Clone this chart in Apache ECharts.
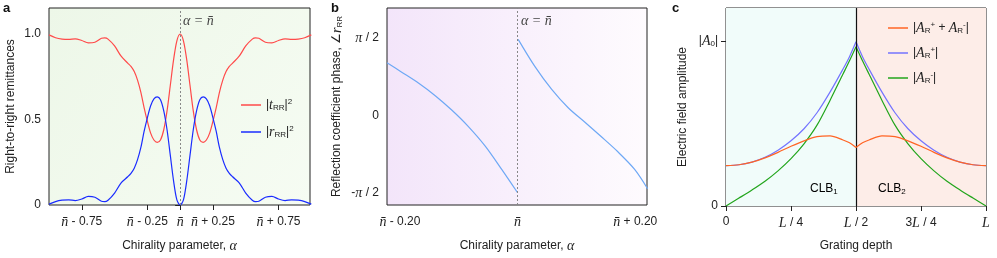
<!DOCTYPE html>
<html><head><meta charset="utf-8">
<script src="https://cdn.jsdelivr.net/npm/echarts@6/dist/echarts.min.js"></script>
<style>html,body{margin:0;padding:0;background:#fff}#c{width:997px;height:258px}</style>
</head><body><div id="c"></div>
<script>
// ---------- Panel a: remittances vs chirality offset (alpha - n̄)
const xA = [-1.0,-0.95,-0.9,-0.85,-0.8,-0.75,-0.7,-0.65,-0.6,-0.575,-0.55,-0.5,-0.45,-0.4,-0.375,-0.35,-0.325,-0.3,-0.275,-0.25,-0.225,-0.2,-0.175,-0.15,-0.125,-0.1,-0.075,-0.05,-0.025,0,
            0.025,0.05,0.075,0.1,0.125,0.15,0.175,0.2,0.225,0.25,0.275,0.3,0.325,0.35,0.375,0.4,0.45,0.5,0.55,0.575,0.6,0.65,0.7,0.75,0.8,0.85,0.9,0.95,1.0];
const tRR = [0.995,0.978,0.97,0.968,0.972,0.962,0.948,0.952,0.975,0.977,0.97,0.93,0.87,0.83,0.81,0.78,0.73,0.66,0.57,0.49,0.42,0.38,0.366,0.38,0.44,0.55,0.70,0.85,0.96,1.0,
             0.96,0.85,0.70,0.55,0.44,0.38,0.366,0.38,0.42,0.49,0.57,0.66,0.73,0.78,0.81,0.83,0.87,0.93,0.97,0.977,0.975,0.952,0.948,0.962,0.972,0.968,0.97,0.978,0.995];
const rRR = [0.005,0.02,0.028,0.03,0.026,0.035,0.05,0.045,0.022,0.02,0.028,0.07,0.13,0.165,0.185,0.215,0.265,0.335,0.43,0.51,0.58,0.62,0.632,0.615,0.55,0.44,0.29,0.14,0.03,0.0,
             0.03,0.14,0.29,0.44,0.55,0.615,0.632,0.62,0.58,0.51,0.43,0.335,0.265,0.215,0.185,0.165,0.13,0.07,0.028,0.02,0.022,0.045,0.05,0.035,0.026,0.03,0.028,0.02,0.005];
const ticksA = [-0.75,-0.25,0,0.25,0.75];
const ticksAY = [0,0.5,1];
const labelsAY = ['0','0.5','1.0'];

// ---------- Panel b: reflection phase (units of pi/2)
const xB1 = [-0.222,-0.197,-0.168,-0.14,-0.112,-0.084,-0.055,-0.027,0];
const phB1 = [0.68,0.558,0.415,0.255,0.07,-0.14,-0.395,-0.695,-0.996];
const xB2 = [0.001,0.029,0.058,0.086,0.114,0.142,0.17,0.199,0.221];
const phB2 = [0.98,0.635,0.335,0.099,-0.085,-0.272,-0.465,-0.695,-0.944];
const ticksB = [-0.2,0,0.2];
const ticksBY = [-1,0,1];

// ---------- Panel c: field amplitudes vs depth (units of L, |A0|)
const xC1 = [0,0.05,0.1,0.15,0.2,0.25,0.3,0.35,0.4,0.45,0.475,0.5];
const sumC1 = [0.245,0.25,0.266,0.292,0.325,0.362,0.395,0.42,0.425,0.40,0.383,0.355];
const plusC1 = [0.245,0.25,0.266,0.295,0.338,0.395,0.468,0.565,0.69,0.83,0.905,0.995];
const minusC1 = [0,0.048,0.097,0.15,0.213,0.287,0.377,0.49,0.64,0.80,0.88,0.965];
const xC2 = [0.5,0.525,0.55,0.6,0.65,0.7,0.75,0.8,0.85,0.9,0.95,1.0];
const sumC2 = [0.355,0.383,0.40,0.425,0.42,0.395,0.362,0.325,0.292,0.266,0.25,0.245];
const plusC2 = [0.995,0.905,0.83,0.69,0.565,0.468,0.395,0.338,0.295,0.266,0.25,0.245];
const minusC2 = [0.965,0.88,0.80,0.64,0.49,0.377,0.287,0.213,0.15,0.097,0.048,0];
const ticksC = [0,0.25,0.5,0.75,1];
const ticksCY = [0,1];

const F = '"Liberation Sans",Arial,sans-serif';
const SERIF = '"Liberation Serif","DejaVu Serif",serif';
const TXT = '#222';
const FS = 12;
const pairs = (xs, ys) => xs.map((x, i) => [x, ys[i]]);
const rich = {
  i: {fontFamily: SERIF, fontStyle: 'italic', fontSize: 14, color: TXT},
  n: {fontFamily: SERIF, fontStyle: 'italic', fontSize: 14, color: TXT},
  sub: {fontFamily: F, fontSize: 8, color: TXT, verticalAlign: 'bottom', padding: [6,0,0,0]},
  sup: {fontFamily: F, fontSize: 8, color: TXT, verticalAlign: 'top', padding: [0,0,6,0]},
  t: {fontFamily: F, fontSize: FS, color: TXT}
};
const NB = 'n\u0304';

function fmtA(v){
  if (Math.abs(v) < 1e-9) return '{n|' + NB + '}';
  return '{n|' + NB + '}{t| ' + (v < 0 ? '- ' : '+ ') + Math.abs(v).toFixed(2) + '}';
}
function fmtBY(v){
  if (Math.abs(v) < 1e-9) return '{t|0}';
  return '{t|' + (v < 0 ? '-' : '') + '}{i|π}{t| / 2}';
}
function fmtC(v){
  const m = {0:'{t|0}', 0.25:'{i|L}{t| / 4}', 0.5:'{i|L}{t| / 2}', 0.75:'{t|3}{i|L}{t| / 4}', 1:'{i|L}'};
  return m[v];
}
function fmtCY(v){ return v < 0.5 ? '{t|0}' : '{t||}{i|A}{sub|0}{t||}'; }

const axisCommon = {
  axisLine: {show: false},
  splitLine: {show: false},
  axisTick: {show: true, inside: false, length: 5, lineStyle: {color: TXT, width: 1}},
  axisLabel: {color: TXT, fontFamily: F, fontSize: FS, rich: rich},
  nameTextStyle: {color: TXT, fontFamily: F, fontSize: FS, rich: rich},
  nameLocation: 'middle'
};
function xa(idx, min, max, ticks, fmt, name, gap){
  return Object.assign({}, axisCommon, {
    type: 'value', gridIndex: idx, min: min, max: max, name: name, nameGap: gap,
    axisTick: Object.assign({}, axisCommon.axisTick, {customValues: ticks}),
    axisLabel: Object.assign({}, axisCommon.axisLabel, {customValues: ticks, formatter: fmt, margin: 10})
  });
}
function ya(idx, min, max, ticks, fmt, name, gap){
  return Object.assign({}, axisCommon, {
    type: 'value', gridIndex: idx, min: min, max: max, name: name, nameGap: gap, nameRotate: 90,
    axisTick: Object.assign({}, axisCommon.axisTick, {customValues: ticks}),
    axisLabel: Object.assign({}, axisCommon.axisLabel, {customValues: ticks, formatter: fmt, margin: 8})
  });
}
const grid = (left) => ({left: left, top: 8, width: 260, height: 198, show: true, borderColor: '#222', borderWidth: 1, z: 1});

const gridA = grid(49); gridA.width = 261;
gridA.backgroundColor = {type:'linear', x:0, y:0, x2:1, y2:1, colorStops:[{offset:0,color:'#edf7e8'},{offset:1,color:'#f6fcf3'}]};
const gridB = grid(387);
gridB.backgroundColor = {type:'linear', x:0, y:0, x2:1, y2:0, colorStops:[{offset:0,color:'#f3e5fa'},{offset:1,color:'#fefbfe'}]};
const gridC = grid(726);

const dotted = {silent: true, symbol: 'none', label: {show: false},
  lineStyle: {type: [2,2], color: '#888', width: 1}, data: [{xAxis: 0}]};

const legendCommon = {orient: 'vertical', itemWidth: 20, itemHeight: 1.5, icon: 'rect', textStyle: {rich: rich, color: TXT}};
const lineS = (name, xi, xs, ys, color, z, extra) => Object.assign({
  name: name, type: 'line', xAxisIndex: xi, yAxisIndex: xi, data: pairs(xs, ys), smooth: 0.3,
  symbol: 'none', lineStyle: {color: color, width: 1.2}, itemStyle: {color: color}, z: z}, extra || {});

const option = {
  animation: false,
  backgroundColor: '#fff',
  textStyle: {fontFamily: F},
  grid: [gridA, gridB, gridC],
  xAxis: [
    xa(0, -1.0, 0.99, ticksA, fmtA, 'Chirality parameter, {i|α}', 34),
    xa(1, -0.222, 0.22, ticksB, fmtA, 'Chirality parameter, {i|α}', 34),
    xa(2, 0, 1, ticksC, fmtC, 'Grating depth', 34)
  ],
  yAxis: [
    ya(0, 0, 1.152, ticksAY, v => labelsAY[ticksAY.indexOf(v)], 'Right-to-right remittances', 32),
    ya(1, -1.154, 1.385, ticksBY, fmtBY, 'Reflection coefficient phase, ∠{i|r}{sub|RR}', 43),
    ya(2, 0, 1.2, ticksCY, fmtCY, 'Electric field amplitude', 37)
  ],
  legend: [
    Object.assign({}, legendCommon, {left: 236, top: 93, itemGap: 13, data: ['tRR','rRR'],
     formatter: n => n === 'tRR' ? '{t||}{i|t}{sub|RR}{t||}{sup|2}' : '{t||}{i|r}{sub|RR}{t||}{sup|2}'}),
    Object.assign({}, legendCommon, {left: 883, top: 16, itemGap: 11, data: ['sum','plus','minus'],
     formatter: n => n === 'sum' ? '{t||}{i|A}{sub|R}{sup|+}{t| + }{i|A}{sub|R}{sup|-}{t||}'
                  : n === 'plus' ? '{t||}{i|A}{sub|R}{sup|+}{t||}' : '{t||}{i|A}{sub|R}{sup|-}{t||}'})
  ],
  series: [
    lineS('tRR', 0, xA, tRR, '#ff4a4a', 3),
    lineS('rRR', 0, xA, rRR, '#1a2cff', 3, {markLine: dotted}),
    lineS('phL', 1, xB1, phB1, '#6ea8f5', 3, {markLine: dotted}),
    lineS('phR', 1, xB2, phB2, '#6ea8f5', 3),
    lineS('sum', 2, xC1, sumC1, '#ff6424', 5, {
      markArea: {silent: true, data: [
        [{xAxis: 0, itemStyle: {color: '#f1fcfa'}}, {xAxis: 0.5}],
        [{xAxis: 0.5, itemStyle: {color: '#fdede8'}}, {xAxis: 1}]
      ]},
      markLine: {silent: true, symbol: 'none', label: {show: false}, lineStyle: {type: 'solid', color: '#111', width: 1.2}, data: [{xAxis: 0.5}]}}),
    lineS('sum', 2, xC2, sumC2, '#ff6424', 5),
    lineS('plus', 2, xC1, plusC1, '#7373ff', 4),
    lineS('plus', 2, xC2, plusC2, '#7373ff', 4),
    lineS('minus', 2, xC1, minusC1, '#22a51c', 4),
    lineS('minus', 2, xC2, minusC2, '#22a51c', 4)
  ],
  graphic: [
    {type: 'text', left: 3, top: 2, style: {text: 'a', font: 'bold 13px ' + F, fill: '#111'}},
    {type: 'text', left: 331, top: 2, style: {text: 'b', font: 'bold 13px ' + F, fill: '#111'}},
    {type: 'text', left: 672, top: 2, style: {text: 'c', font: 'bold 13px ' + F, fill: '#111'}},
    {type: 'text', left: 183, top: 14, z: 10, style: {text: 'α = ' + NB, font: 'italic 14px ' + SERIF, fill: '#444'}},
    {type: 'text', left: 521, top: 14, z: 10, style: {text: 'α = ' + NB, font: 'italic 14px ' + SERIF, fill: '#444'}},
    {type: 'text', left: 810, top: 183, z: 10, style: {rich: rich, text: '{t|CLB}{sub|1}'}},
    {type: 'text', left: 878, top: 183, z: 10, style: {rich: rich, text: '{t|CLB}{sub|2}'}}
  ]
};
const chart = echarts.init(document.getElementById('c'), null, {renderer: 'canvas'});
chart.setOption(option);
</script></body></html>
